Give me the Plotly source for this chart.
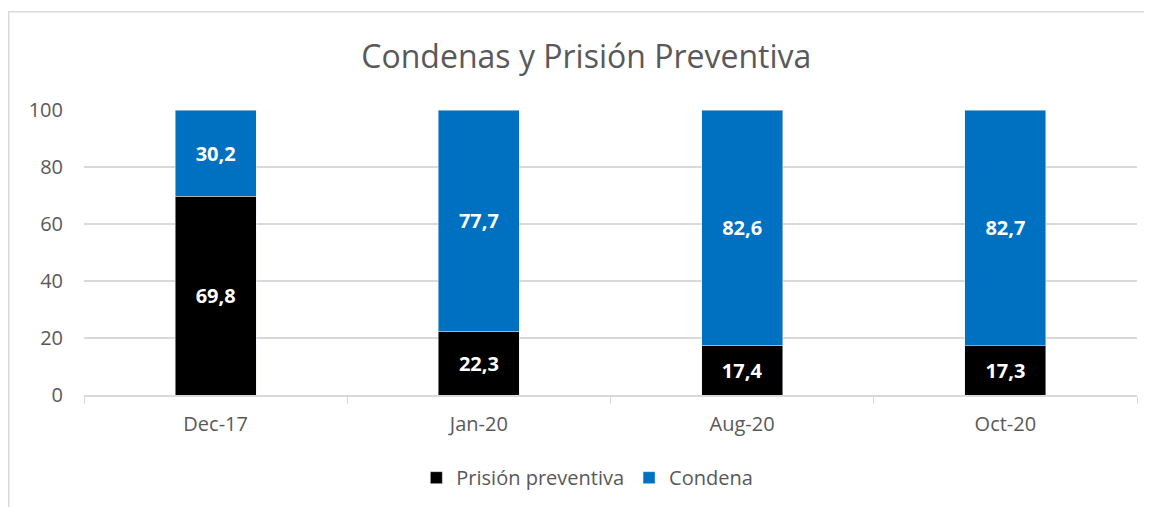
import plotly.graph_objects as go

periods = ['Dec-17', 'Jan-20', 'Aug-20', 'Oct-20']
preventiva = [69.8, 22.3, 17.4, 17.3]
condena = [30.2, 77.7, 82.6, 82.7]

def fmt(v):
    return f'{v:.1f}'.replace('.', ',')

label_font = {'color': 'white', 'size': 20, 'family': 'Open Sans', 'weight': 'bold'}

fig = go.Figure()
fig.add_trace(go.Bar(
    x=periods, y=preventiva, name='Prisión preventiva',
    marker={'color': '#000000'},
    text=[fmt(v) for v in preventiva], textposition='inside',
    insidetextanchor='middle', textfont=label_font,
))
fig.add_trace(go.Bar(
    x=periods, y=condena, name='Condena',
    marker={'color': '#0070C0'},
    text=[fmt(v) for v in condena], textposition='inside',
    insidetextanchor='middle', textfont=label_font,
))

# chart frame (Excel-style border)
fig.add_shape(type='rect', xref='paper', yref='paper',
              x0=-0.0715, x1=1.2, y0=-0.6, y1=1.345,
              line={'color': '#d9d9d9', 'width': 1.5}, layer='below')

fig.update_layout(
    barmode='stack', bargap=0.692,
    width=1152, height=507,
    margin={'l': 76, 'r': 23, 't': 102, 'b': 120},
    paper_bgcolor='white', plot_bgcolor='white',
    font={'family': 'Open Sans', 'color': '#595959', 'size': 19},
    title={'text': 'Condenas y Prisión Preventiva', 'x': 0.502, 'xanchor': 'center',
           'y': 0.903, 'yanchor': 'middle', 'font': {'size': 32, 'color': '#595959'}},
    legend={'orientation': 'h', 'x': 0.478, 'xanchor': 'center', 'y': -0.29,
            'yanchor': 'middle', 'font': {'size': 20, 'color': '#595959'},
            'itemwidth': 30, 'traceorder': 'normal'},
    uniformtext={'mode': 'show', 'minsize': 10},
)
fig.update_xaxes(showgrid=False, showline=True, linecolor='#d9d9d9', linewidth=1.5,
                 ticks='outside', tickson='boundaries', ticklen=7, tickcolor='#d9d9d9',
                 tickfont={'size': 20, 'color': '#595959'}, ticklabelstandoff=10)
fig.update_yaxes(range=[0, 100], dtick=20, showgrid=True, gridcolor='#d9d9d9', gridwidth=1.5,
                 zeroline=False, showline=False, ticks='',
                 tickfont={'size': 20, 'color': '#595959'}, ticklabelstandoff=20)

fig.write_html('out.html')
